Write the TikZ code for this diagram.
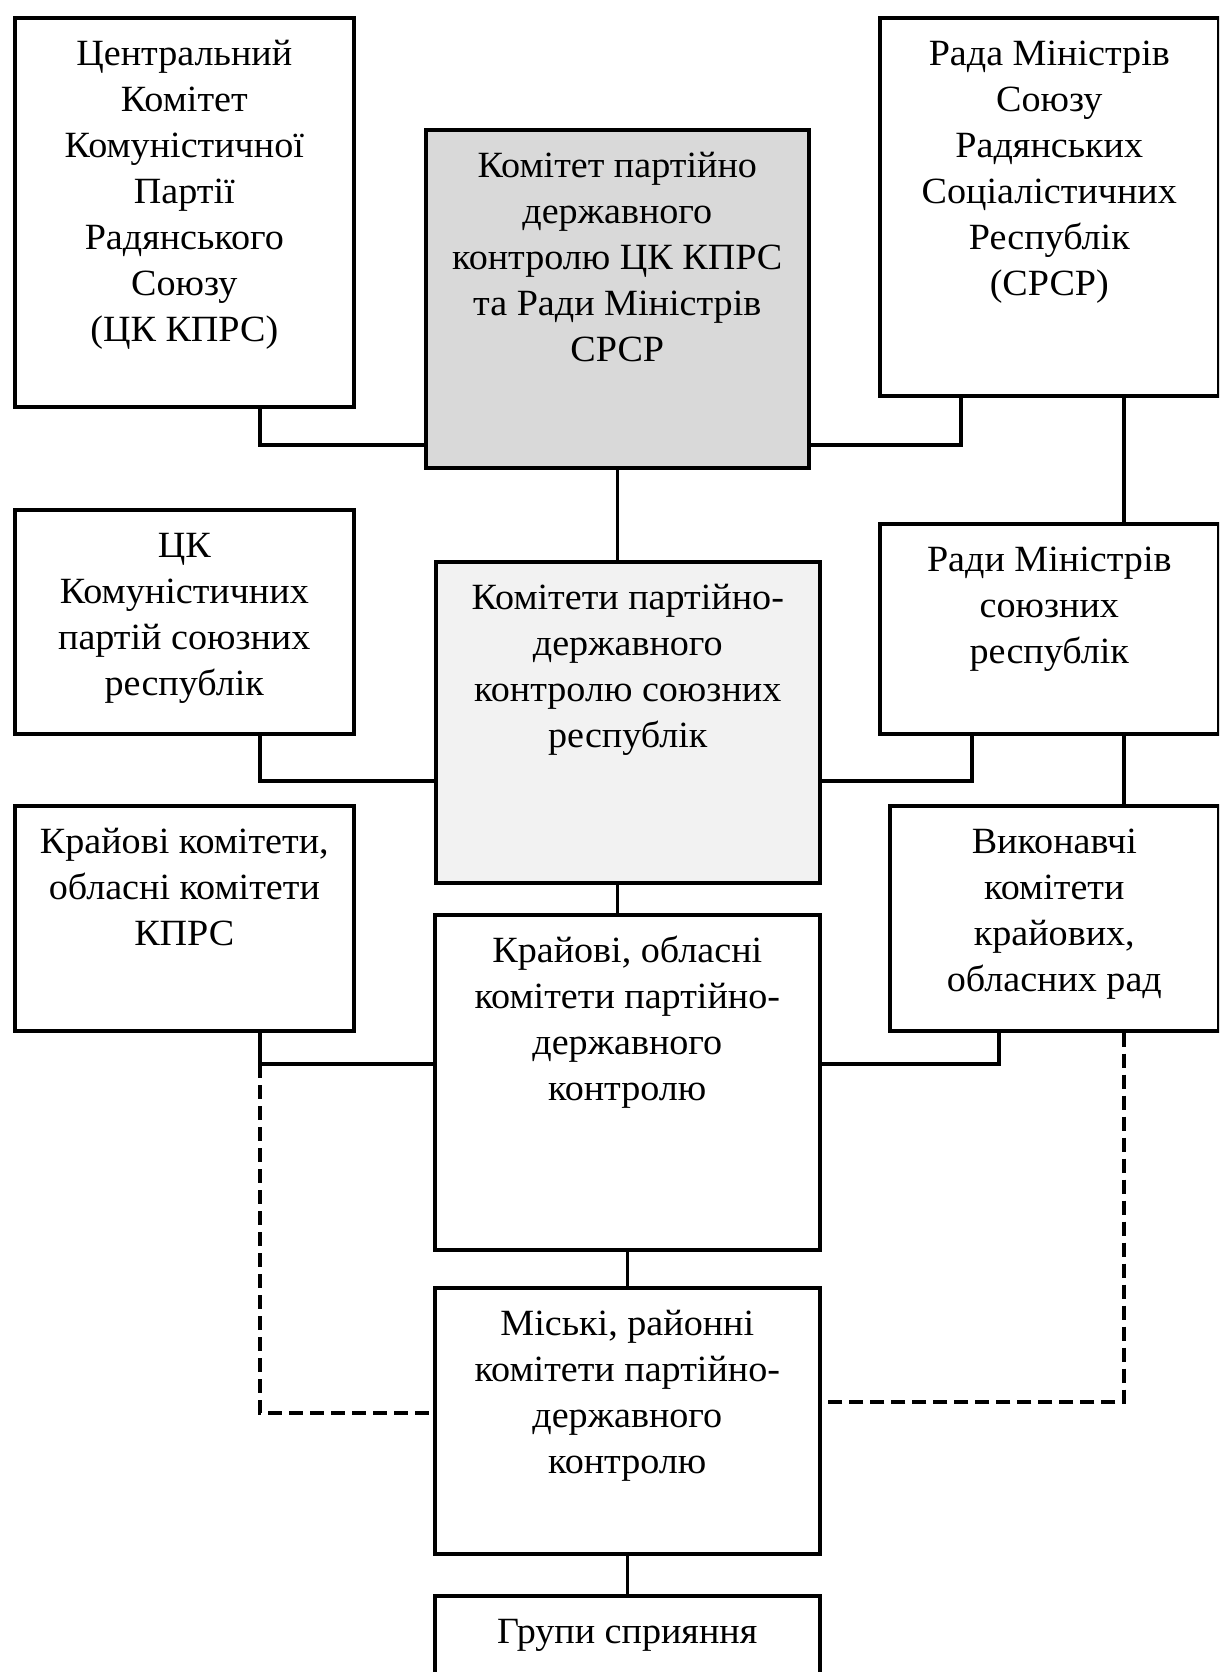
\documentclass[tikz,border=0pt]{standalone}
\usepackage{fontspec}
\setmainfont{Liberation Serif}[FakeStretch=1.03]
\usetikzlibrary{calc}

\newcommand{\boxlines}[3]{\parbox[t][#2][t]{#1}{\centering\rule{0pt}{48pt}#3}}

\tikzset{
    orgbox/.style={draw, line width=3.6pt, inner sep=0pt, anchor=north west},
    link/.style={line width=3.4pt},
    dlink/.style={link, dash pattern=on 14pt off 7pt}
}

\begin{document}
\begin{tikzpicture}[
    x=1pt,
    y=-1pt,
    font={\fontsize{37}{46}\selectfont}
]

\colorlet{boxgray}{gray!30}
\colorlet{boxlight}{gray!10}

\path[use as bounding box, fill=white] (0,0) rectangle (1219,1672);
\clip (0,0) rectangle (1219,1672);

% Top row: party, joint committee, government.
\node[orgbox] (cpsu) at (13,16)
    {\boxlines{339pt}{389pt}{Центральний\\Комітет\\Комуністичної\\Партії\\Радянського\\Союзу\\(ЦК КПРС)}};
\node[orgbox, fill=boxgray] (kpdk) at (424,128)
    {\boxlines{383pt}{338pt}{Комітет партійно\\державного\\контролю ЦК КПРС\\та Ради Міністрів\\СРСР}};
\node[orgbox] (radamin) at (878,16)
    {\boxlines{339pt}{378pt}{Рада Міністрів\\Союзу\\Радянських\\Соціалістичних\\Республік\\(СРСР)}};

% Republic level.
\node[orgbox] (ckresp) at (13,508)
    {\boxlines{339pt}{224pt}{ЦК\\Комуністичних\\партій союзних\\республік}};
\node[orgbox, fill=boxlight] (kpdkresp) at (434,560)
    {\boxlines{384pt}{321pt}{Комітети партійно-\\державного\\контролю союзних\\республік}};
\node[orgbox] (radyresp) at (878,522)
    {\boxlines{339pt}{210pt}{Ради Міністрів\\союзних\\республік}};

% Regional level.
\node[orgbox] (krajkom) at (13,804)
    {\boxlines{339pt}{225pt}{Крайові комітети,\\обласні комітети\\КПРС}};
\node[orgbox] (kpdkobl) at (433,913)
    {\boxlines{385pt}{335pt}{Крайові, обласні\\комітети партійно-\\державного\\контролю}};
\node[orgbox] (vykon) at (888,804)
    {\boxlines{329pt}{225pt}{Виконавчі\\комітети\\крайових,\\обласних рад}};

% City level and below.
\node[orgbox] (miski) at (433,1286)
    {\boxlines{385pt}{266pt}{Міські, районні\\комітети партійно-\\державного\\контролю}};
\node[orgbox] (grupy) at (433,1594)
    {\boxlines{385pt}{130pt}{Групи сприяння}};

\coordinate (jA) at (260,445);
\coordinate (jC) at (961,445);
\coordinate (jD) at (260,781);
\coordinate (jE) at (972,781);
\coordinate (jF) at (260,1064);
\coordinate (jG) at (999,1064);
\coordinate (jH) at (260,1413);
\coordinate (jR) at (1124,1402);

\draw[link] (cpsu.south -| jA) -- (jA) -- (jA -| kpdk.west);
\draw[link] (radamin.south -| jC) -- (jC) -- (jC -| kpdk.east);
\draw[link] (kpdk.south) -- (kpdkresp.north -| kpdk.south);
\draw[link] (radamin.south -| jR) -- (radyresp.north -| jR);

\draw[link] (ckresp.south -| jD) -- (jD) -- (jD -| kpdkresp.west);
\draw[link] (radyresp.south -| jE) -- (jE) -- (jE -| kpdkresp.east);
\draw[link] (radyresp.south -| jR) -- (vykon.north -| jR);
\draw[link] (kpdkresp.south -| kpdk.south) -- (kpdkobl.north -| kpdk.south);

\draw[link] (krajkom.south -| jF) -- (jF) -- (jF -| kpdkobl.west);
\draw[link] (vykon.south -| jG) -- (jG) -- (jG -| kpdkobl.east);
\draw[dlink] (jF) -- (jH) -- (jH -| miski.west);
\draw[dlink] (vykon.south -| jR) -- (jR) -- (jR -| miski.east);

\draw[link] (kpdkobl.south) -- (miski.north);
\draw[link] (miski.south) -- (grupy.north);

\end{tikzpicture}
\end{document}
